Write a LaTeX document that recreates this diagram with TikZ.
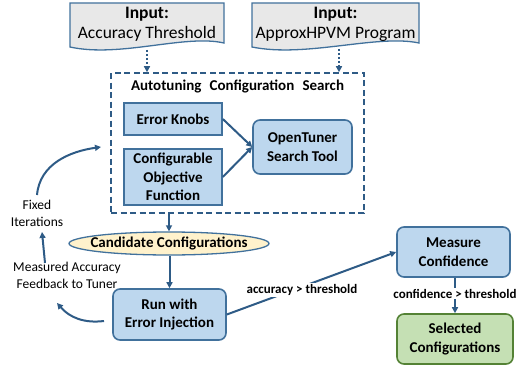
\documentclass[tikz,border=0pt]{standalone}
\usepackage{fontspec}
\setmainfont{Carlito}
\usetikzlibrary{arrows.meta,shapes.geometric}
\definecolor{edgeblue}{HTML}{41719C}
\definecolor{arrowblue}{HTML}{2E5B86}
\definecolor{boxblue}{HTML}{BDD7EE}
\definecolor{inputgray}{HTML}{E8E8E8}
\definecolor{candfill}{HTML}{FFF2CC}
\definecolor{selfill}{HTML}{C5E0B4}
\definecolor{seledge}{HTML}{548235}
\tikzset{
  boxtext/.style={font=\fontsize{15}{18.5}\selectfont\bfseries, align=center, inner sep=0pt},
  bluebox/.style={boxtext, draw=edgeblue, fill=boxblue, line width=1.6pt},
  roundbox/.style={bluebox, rounded corners=7pt},
  greenbox/.style={boxtext, draw=seledge, fill=selfill, line width=1.6pt, rounded corners=7pt},
  inputshape/.style={draw=edgeblue, fill=inputgray, line width=1.3pt},
  inputtext/.style={font=\fontsize{17.5}{20}\selectfont, align=center, inner sep=0pt},
  sidelabel/.style={font=\fontsize{13.5}{17}\selectfont, align=center, inner sep=0pt},
  condlabel/.style={font=\fontsize{13}{15}\selectfont\bfseries, inner sep=1pt, fill=white},
  flow/.style={draw=arrowblue, line width=2pt, -{Triangle[length=6pt,width=6pt]}},
  dotflow/.style={flow, dotted},
}
\newcommand{\widespaced}[1]{{\spaceskip=0.55em\relax #1}}
\begin{document}
\begin{tikzpicture}[x=1pt,y=-1pt]
\useasboundingbox (0,0) rectangle (527,369);

% input documents with wavy lower edge
\path[inputshape] (70,3) -- (224,3) -- (224,43)
  .. controls (185,34) and (120,58) .. (70,47) -- cycle;
\path[inputshape] (252,3) -- (419,3) -- (419,43)
  .. controls (377,34) and (306,58) .. (252,47) -- cycle;
\node[inputtext] (in1) at (147,24.5) {\textbf{Input:}\\Accuracy Threshold};
\node[inputtext] (in2) at (335.5,24.5) {\textbf{Input:}\\ApproxHPVM Program};
\coordinate (in1b) at (147,50);
\coordinate (in2b) at (339,49);

% autotuning search region
\node[draw=arrowblue, dash pattern=on 6pt off 3.5pt, line width=1.6pt, minimum width=253pt, minimum height=140pt, inner sep=0pt] (search) at (237.5,143) {};
\node[boxtext] (title) at (237.5,86) {\widespaced{Autotuning Configuration Search}};

\draw[dotflow] (in1b) -- (in1b |- search.north);
\draw[dotflow] (in2b) -- (in2b |- search.north);

\node[bluebox, minimum width=98pt, minimum height=32pt] (ek) at (173,119) {Error Knobs};
\node[bluebox, minimum width=98pt, minimum height=56pt] (cof) at (173,177) {Configurable\\Objective\\Function};
\node[roundbox, minimum width=99pt, minimum height=54pt] (ot) at (302.5,147) {OpenTuner\\Search Tool};
\draw[flow] (ek.east) -- (ot.west);
\draw[flow] (cof.east) -- (ot.west);

% candidate configurations and evaluation
\node[boxtext, ellipse, draw=edgeblue, fill=candfill, line width=1.3pt, minimum width=200pt, minimum height=23pt] (cand) at (169,243.5) {\makebox[120pt]{Candidate Configurations}};
\draw[flow] (cand.north |- search.south) -- (cand.north);

\node[roundbox, minimum width=113pt, minimum height=51pt] (run) at (169.5,314.5) {Run with\\Error Injection};
\draw[flow] (cand.south -| run.north) -- (run.north);

\node[roundbox, minimum width=113pt, minimum height=50pt] (mc) at (453.5,252) {Measure\\Confidence};
\node[greenbox, minimum width=116pt, minimum height=50pt] (sel) at (455,339) {Selected\\Configurations};

\draw[flow] (run.east) -- (mc.west);
\node[condlabel] (acc) at (302,290) {accuracy > threshold};
\draw[flow] (mc.south -| sel.north) -- node[condlabel, pos=0.45] (conf) {confidence > threshold} (sel.north);

% feedback loop to the tuner
\node[sidelabel] (fb) at (67,275.5) {Measured Accuracy\\Feedback to Tuner};
\node[sidelabel] (fix) at (37,213.5) {Fixed\\Iterations};
\coordinate (fbs) at (104,321);
\coordinate (fbe) at (57,303);
\draw[flow] (fbs) to[bend left=28] (fbe);
\coordinate (ups) at (45,263);
\coordinate (upe) at (42,232);
\draw[flow] (ups) -- (upe);
\coordinate (its) at (37,195);
\coordinate (ite) at (101,147);
\draw[flow] (its) to[out=85,in=188] (ite);
\end{tikzpicture}
\end{document}
